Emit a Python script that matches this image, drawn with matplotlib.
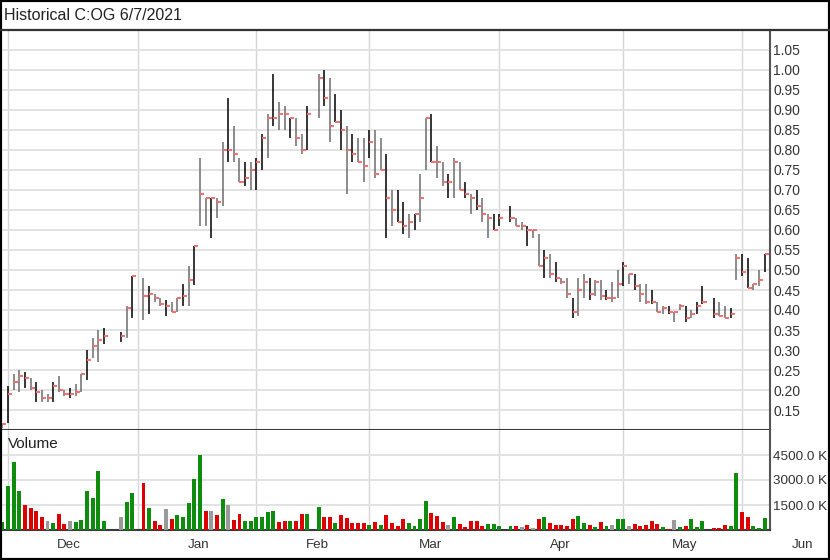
import numpy as np
import pandas as pd
import matplotlib
matplotlib.use('Agg')
import matplotlib.pyplot as plt
import matplotlib.transforms as mtransforms
from matplotlib.lines import Line2D
from matplotlib.patches import Rectangle

plt.rcParams['font.family'] = ['Liberation Sans', 'DejaVu Sans']

titulo = "Historical C:OG 6/7/2021"
fecha_ini, fecha_fin = '2020-11-30', '2021-06-07'
dias = pd.bdate_range(fecha_ini, fecha_fin)   # eje de dias habiles (None = feriado)

maximos = [
    0.117, 0.21, 0.24, 0.25, 0.245, 0.23, 0.22, 0.20, 0.19, 0.22,
    0.235, 0.20, 0.205, 0.215, 0.24, 0.30, 0.33, 0.35, 0.355, None,
    None, 0.345, 0.41, 0.486, None, 0.48, 0.46, 0.44, 0.43, 0.425,
    0.42, 0.43, 0.465, 0.51, 0.561, 0.78, 0.68, 0.68, 0.68, 0.82,
    0.93, 0.86, 0.78, 0.77, 0.77, 0.78, 0.84, 0.89, 0.99, 0.92,
    0.91, 0.88, 0.88, 0.84, 0.91, None, 0.99, 1.00, 0.98, 0.94,
    0.90, 0.86, 0.84, 0.83, 0.83, 0.85, 0.85, 0.83, 0.79, 0.70,
    0.70, 0.67, 0.64, 0.64, 0.74, 0.88, 0.89, 0.81, 0.77, 0.74,
    0.78, 0.77, 0.72, 0.69, 0.70, 0.68, 0.64, 0.64, 0.64, None,
    0.66, 0.63, 0.62, 0.61, 0.60, 0.59, 0.55, 0.54, 0.52, 0.48,
    0.48, 0.43, 0.48, 0.49, 0.48, 0.475, 0.475, 0.45, 0.47, 0.50,
    0.52, 0.49, 0.49, 0.465, 0.465, 0.45, 0.42, 0.41, 0.41, 0.395,
    0.415, 0.41, 0.40, 0.42, 0.46, None, 0.43, 0.42, 0.41, 0.405,
    0.54, 0.54, 0.53, 0.465, 0.50, 0.54]

minimos = [
    0.104, 0.117, 0.20, 0.196, 0.206, 0.20, 0.171, 0.171, 0.171, 0.171,
    0.196, 0.185, 0.18, 0.185, 0.196, 0.225, 0.281, 0.27, 0.316, None,
    None, 0.32, 0.33, 0.38, None, 0.376, 0.39, 0.421, 0.411, 0.386,
    0.396, 0.396, 0.411, 0.411, 0.4625, 0.61, 0.61, 0.58, 0.63, 0.66,
    0.77, 0.77, 0.72, 0.71, 0.70, 0.70, 0.75, 0.78, 0.86, 0.85,
    0.85, 0.83, 0.81, 0.79, 0.80, None, 0.88, 0.91, 0.82, 0.87,
    0.80, 0.69, 0.77, 0.77, 0.72, 0.78, 0.73, 0.75, 0.58, 0.61,
    0.62, 0.59, 0.58, 0.60, 0.62, 0.75, 0.77, 0.73, 0.71, 0.68,
    0.68, 0.70, 0.68, 0.64, 0.65, 0.62, 0.58, 0.60, 0.61, None,
    0.62, 0.61, 0.60, 0.56, 0.58, 0.51, 0.48, 0.48, 0.47, 0.465,
    0.43, 0.38, 0.385, 0.43, 0.425, 0.435, 0.425, 0.425, 0.42, 0.43,
    0.46, 0.465, 0.45, 0.42, 0.415, 0.415, 0.395, 0.39, 0.39, 0.37,
    0.40, 0.37, 0.38, 0.39, 0.415, None, 0.38, 0.385, 0.38, 0.38,
    0.475, 0.485, 0.455, 0.45, 0.46, 0.495]

cierres = [
    0.116, 0.191, 0.22, 0.236, 0.231, 0.206, 0.196, 0.181, 0.181, 0.211,
    0.201, 0.191, 0.191, 0.196, 0.241, 0.276, 0.311, 0.326, 0.336, None,
    None, 0.336, 0.405, 0.486, None, 0.436, 0.441, 0.431, 0.416, 0.411,
    0.396, 0.431, 0.436, 0.476, 0.561, 0.69, 0.68, 0.68, 0.67, 0.80,
    0.80, 0.79, 0.72, 0.73, 0.75, 0.77, 0.83, 0.88, 0.88, 0.89,
    0.89, 0.88, 0.83, 0.80, 0.89, None, 0.98, 0.93, 0.86, 0.87,
    0.85, 0.80, 0.79, 0.77, 0.76, 0.82, 0.74, 0.75, 0.68, 0.65,
    0.62, 0.61, 0.62, 0.64, 0.68, 0.88, 0.77, 0.77, 0.72, 0.72,
    0.77, 0.70, 0.69, 0.68, 0.66, 0.64, 0.63, 0.60, 0.63, None,
    0.63, 0.61, 0.61, 0.60, 0.60, 0.51, 0.53, 0.49, 0.48, 0.47,
    0.44, 0.395, 0.45, 0.47, 0.44, 0.47, 0.435, 0.43, 0.43, 0.465,
    0.51, 0.49, 0.46, 0.44, 0.42, 0.42, 0.395, 0.405, 0.395, 0.395,
    0.41, 0.38, 0.39, 0.41, 0.42, None, 0.39, 0.385, 0.38, 0.39,
    0.53, 0.495, 0.455, 0.465, 0.475, 0.54]

# volumen en miles de acciones
volumen = [
    480, 2640, 4100, 2340, 1480, 1320, 1160, 760, 560, 440,
    940, 340, 540, 500, 600, 2320, 1900, 3520, 520, None,
    None, 780, 1680, 2240, None, 2800, 1320, 560, 300, 1240,
    640, 900, 800, 1640, 3040, 4480, 1140, 1140, 920, 1840,
    1480, 600, 940, 540, 520, 780, 780, 1080, 1140, 460,
    540, 540, 540, 940, 940, None, 1380, 760, 780, 400,
    900, 700, 400, 400, 420, 280, 460, 300, 900, 420,
    260, 660, 420, 220, 660, 1740, 1000, 860, 480, 280,
    760, 360, 160, 520, 520, 220, 340, 340, 240, None,
    220, 260, 180, 300, 120, 660, 760, 420, 300, 300,
    260, 640, 820, 440, 300, 180, 460, 260, 320, 660,
    640, 240, 360, 240, 280, 560, 360, 160, 60, 600,
    200, 220, 660, 200, 540, None, 100, 140, 280, 240,
    3400, 1060, 760, 240, 120, 700]

# barra de precio: s = sube (negra), b = baja (gris)
tipo_barra = ("bsbbsbsbbs" "bbsbbsbbs-" "-sbs-bsbbs" "bbsbsbbsbb"
              "sbbsbssbsb" "bsbbs-bsbs" "sbsbbsbbsb" "ssbsbbsbbs"
              "bbsbsbbss-" "sbbsbbsbsb" "bsbbsbbsbb" "sbsbbsbbsb"
              "bsbss-sbbs" "bssbbs")
# volumen: u = cierre arriba, d = abajo, n = sin cambio
tipo_vol = ("uuuuddddnu" "ddnuuuuuu-" "-nuu-duddn" "duuuuudndu"
            "ndduuuuuud" "duddu-uddu" "dddddududd" "dduuuudddn"
            "uddddduuu-" "udndnduddd" "dduududunu" "undddddudn"
            "uduuu-dddu" "udduuu")

meses = ['Dec', 'Jan', 'Feb', 'Mar', 'Apr', 'May', 'Jun']
inicio_mes = ['2020-12-01', '2021-01-01', '2021-02-01', '2021-03-01',
              '2021-04-01', '2021-05-01', '2021-06-01']
medio_mes = ['2020-12-15', '2021-01-15', '2021-02-15', '2021-03-15',
             '2021-04-15', '2021-05-15', '2021-06-15']

ticks_precio = np.arange(0.15, 1.051, 0.05)
ticks_vol = [1500, 3000, 4500]

assert len(dias) == len(maximos) == len(minimos) == len(cierres) == len(volumen)
assert len(tipo_barra) == len(dias) and len(tipo_vol) == len(dias)

def a_float(lista):
    return np.array([np.nan if v is None else v for v in lista], dtype=float)

x = np.arange(len(dias))
hi, lo, cl, vol = a_float(maximos), a_float(minimos), a_float(cierres), a_float(volumen)
ok = ~np.isnan(hi)

fig = plt.figure(figsize=(8.3, 5.6), dpi=100)
W, H = 830, 560
ax = fig.add_axes([2 / W, 130 / H, 768 / W, 400 / H])
axv = fig.add_axes([2 / W, 30 / H, 768 / W, 100 / H], sharex=ax)

xmin, xmax = -0.06, 135.96
grid_x = np.busday_count(fecha_ini, inicio_mes)

# --- panel de precio
col_barra = ['#000000' if t == 's' else '#6c6c6c' for t in tipo_barra]
ax.vlines(x[ok], lo[ok], hi[ok], colors=[c for c, k in zip(col_barra, ok) if k], lw=1.1, zorder=3)
ax.hlines(cl[ok], x[ok], x[ok] + 0.72, colors='#ff6b6b', lw=1.4, zorder=4)

ax.set_xlim(xmin, xmax)
ax.set_ylim(0.10, 1.10)
ax.set_yticks(ticks_precio)
ax.set_yticklabels([f"{t:.2f}" for t in ticks_precio])
ax.yaxis.tick_right()
ax.tick_params(axis='y', length=0, pad=2.5, labelsize=10, labelcolor='#333333')
ax.tick_params(axis='x', bottom=False, labelbottom=False)
ax.yaxis.grid(True, color='#e2e2e2', lw=1.4)
for g in grid_x:
    ax.axvline(g, color='#d6d6d6', lw=1.0, zorder=0)
ax.set_axisbelow(True)

# --- panel de volumen
col_vol = {'u': '#0d8c0d', 'd': '#dd0000', 'n': '#9a9a9a'}
okv = ~np.isnan(vol)
axv.bar(x[okv], vol[okv], width=0.7, color=[col_vol[t] for t, k in zip(tipo_vol, okv) if k], zorder=3)
axv.set_ylim(0, 6000)
axv.set_yticks(ticks_vol)
axv.set_yticklabels([f"{t:.1f} K" for t in ticks_vol])
axv.yaxis.tick_right()
axv.tick_params(axis='y', length=0, pad=2.0, labelsize=9.7, labelcolor='#333333')
axv.tick_params(axis='x', bottom=False, labelbottom=False)
axv.yaxis.grid(True, color='#e2e2e2', lw=1.4)
for g in grid_x:
    axv.axvline(g, color='#d6d6d6', lw=1.0, zorder=0)
axv.set_axisbelow(True)
axv.text(6 / 768, 0.86, 'Volume', transform=axv.transAxes, fontsize=11,
         va='center', ha='left', color='#222222')

trans = mtransforms.blended_transform_factory(axv.transData, axv.transAxes)
for nombre, pos in zip(meses, np.busday_count(fecha_ini, medio_mes) + 0.8):
    axv.text(pos, -0.15, nombre, transform=trans, ha='center', va='center',
             fontsize=9.6, color='#333333', clip_on=False)

for a in (ax, axv):
    a.spines['left'].set_visible(False)
    a.spines['top'].set_visible(False)
    a.spines['right'].set_color('#555555')
    a.spines['right'].set_linewidth(1.5)
    a.spines['bottom'].set_color('#3a3a3a')
    a.spines['bottom'].set_linewidth(1.5)

# titulo y marcos
fig.text(4 / W, 1 - 15 / H, titulo, fontsize=11.5, va='center', ha='left', color='#222222')
fig.add_artist(Line2D([0, 1], [1 - 29.5 / H] * 2, transform=fig.transFigure, color='#333333', lw=1.6))
fig.add_artist(Rectangle((0, 0), 1, 1, transform=fig.transFigure, fill=False,
                         ec='black', lw=3, clip_on=False))

fig.savefig('out.png', dpi=100)
